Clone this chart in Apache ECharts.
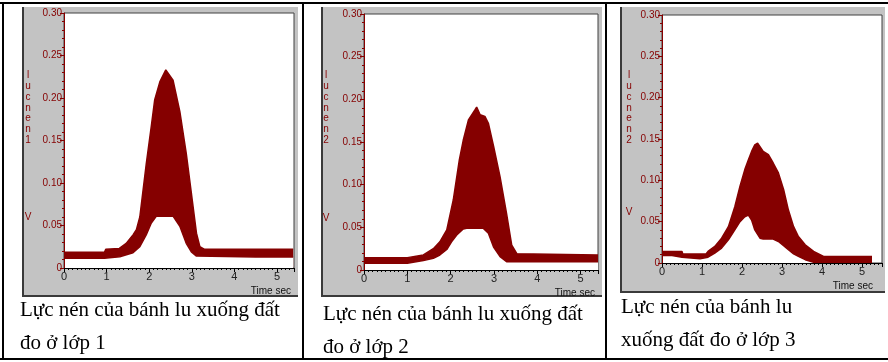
<!DOCTYPE html>
<html>
<head>
<meta charset="utf-8">
<script src="https://cdn.jsdelivr.net/npm/echarts@6/dist/echarts.min.js"></script>
<style>
  html, body { margin: 0; padding: 0; background: #fff; }
  #chart { width: 888px; height: 362px; }
</style>
</head>
<body>
<div id="chart"></div>
<script>
// lớp 1 - đường bao trên / dưới (giây, V)
const tUp1 = [0, 0.95, 0.98, 1.3, 1.46, 1.62, 1.7, 1.78, 1.93, 2.05, 2.13, 2.25, 2.39, 2.56, 2.72, 2.87, 2.99, 3.11, 3.19, 3.3, 4.5, 5.38]
const vUp1 = [0.0185, 0.0185, 0.022, 0.023, 0.029, 0.039, 0.045, 0.06, 0.122, 0.167, 0.198, 0.219, 0.233, 0.221, 0.184, 0.135, 0.088, 0.041, 0.025, 0.022, 0.022, 0.022]
const tLo1 = [0, 0.95, 0.98, 1.31, 1.62, 1.78, 1.93, 2.05, 2.17, 2.56, 2.72, 2.87, 2.99, 3.11, 4.5, 5.38]
const vLo1 = [0.0115, 0.0115, 0.013, 0.0133, 0.018, 0.025, 0.039, 0.053, 0.061, 0.061, 0.049, 0.029, 0.019, 0.014, 0.013, 0.013]

// lớp 2
const tUp2 = [0, 1.0, 1.02, 1.37, 1.6, 1.75, 1.91, 2.06, 2.2, 2.29, 2.41, 2.56, 2.6, 2.68, 2.79, 2.87, 2.99, 3.14, 3.29, 3.41, 3.53, 5.4]
const vUp2 = [0.0145, 0.0145, 0.0164, 0.0176, 0.025, 0.033, 0.047, 0.082, 0.129, 0.152, 0.176, 0.1875, 0.191, 0.182, 0.18, 0.172, 0.145, 0.109, 0.066, 0.029, 0.019, 0.0176]
const tLo2 = [0, 1.0, 1.02, 1.37, 1.6, 1.75, 1.91, 2.02, 2.14, 2.29, 2.37, 2.75, 2.87, 2.99, 3.14, 3.29, 5.4]
const vLo2 = [0.0078, 0.0078, 0.0098, 0.011, 0.0137, 0.0176, 0.024, 0.033, 0.041, 0.048, 0.049, 0.049, 0.043, 0.027, 0.0156, 0.0098, 0.0098]

// lớp 3
const tUp3 = [0, 0.5, 0.52, 1.1, 1.15, 1.32, 1.49, 1.66, 1.82, 1.95, 2.07, 2.16, 2.24, 2.32, 2.39, 2.53, 2.66, 2.78, 2.91, 3.04, 3.16, 3.29, 3.41, 3.58, 3.79, 4.04, 5.25]
const vUp3 = [0.014, 0.014, 0.011, 0.011, 0.014, 0.02, 0.03, 0.044, 0.068, 0.093, 0.113, 0.125, 0.135, 0.143, 0.145, 0.135, 0.131, 0.121, 0.109, 0.089, 0.064, 0.044, 0.032, 0.022, 0.014, 0.008, 0.008]
const tLo3 = [0, 0.25, 0.27, 0.5, 0.52, 0.95, 1.0, 1.15, 1.32, 1.49, 1.66, 1.82, 1.95, 2.07, 2.16, 2.24, 2.32, 2.45, 2.53, 2.78, 2.91, 3.04, 3.16, 3.29, 3.41, 3.58, 3.79, 5.25]
const vLo3 = [0.009, 0.009, 0.007, 0.007, 0.005, 0.005, 0.004, 0.007, 0.012, 0.018, 0.028, 0.04, 0.05, 0.056, 0.058, 0.052, 0.04, 0.03, 0.029, 0.029, 0.026, 0.021, 0.016, 0.011, 0.008, 0.004, 0.001, 0.001]

const yNames = ['l\nu\nc\nn\ne\nn\n1', 'l\nu\nc\nn\ne\nn\n2', 'l\nu\nc\nn\ne\nn\n2']
const captions = [
  'Lực nén của bánh lu xuống đất\nđo ở lớp 1',
  'Lực nén của bánh lu xuống đất\nđo ở lớp 2',
  'Lực nén của bánh lu\nxuống đất đo ở lớp 3'
]
const xMax = [5.4, 5.4, 5.5]

const RED = '#850000'
const pairs = (t, v) => t.map((x, i) => [x, v[i]])

const grids = [
  {left: 64, top: 13, width: 230, height: 255},
  {left: 364, top: 14, width: 234, height: 256},
  {left: 662, top: 15, width: 220, height: 248}
]
// khung xám quanh mỗi đồ thị
const frames = [
  {x: 22, y: 7, w: 276, h: 290},
  {x: 321, y: 7, w: 281, h: 290},
  {x: 620, y: 7, w: 265, h: 286}
]
const ups = [pairs(tUp1, vUp1), pairs(tUp2, vUp2), pairs(tUp3, vUp3)]
const los = [pairs(tLo1, vLo1), pairs(tLo2, vLo2), pairs(tLo3, vLo3)]

let graphic = []
frames.forEach(f => {
  graphic.push({type: 'rect', z: -5, shape: {x: f.x, y: f.y, width: f.w, height: f.h}, style: {fill: '#c3c3c3'}})
  graphic.push({type: 'rect', z: -4, shape: {x: f.x, y: f.y, width: 2, height: f.h}, style: {fill: '#3a3a3a'}})
  graphic.push({type: 'rect', z: -4, shape: {x: f.x, y: f.y + f.h - 2, width: f.w, height: 2}, style: {fill: '#3a3a3a'}})
})
// đường kẻ bảng
const blk = [
  [0, 2, 888, 2], [2, 2, 2, 358], [302, 2, 2, 358], [605, 2, 2, 358], [0, 358, 888, 2]
]
blk.forEach(b => graphic.push({type: 'rect', z: 50, shape: {x: b[0], y: b[1], width: b[2], height: b[3]}, style: {fill: '#000'}}))

const yLabX = [28, 326, 629]
const vY = [217, 218, 212]
const timeX = [291, 595, 873]
const timeY = [291, 293, 286]
for (let i = 0; i < 3; i++) {
  graphic.push({type: 'text', z: 60, style: {text: yNames[i], x: yLabX[i], y: 70, textAlign: 'center', textVerticalAlign: 'top',
    font: '10px Arial', lineHeight: 10.8, fill: RED}})
  graphic.push({type: 'text', z: 60, style: {text: 'V', x: yLabX[i], y: vY[i], textAlign: 'center', textVerticalAlign: 'middle',
    font: '10px Arial', fill: RED}})
  graphic.push({type: 'text', z: 60, style: {text: 'Time sec', x: timeX[i], y: timeY[i], textAlign: 'right', textVerticalAlign: 'middle',
    font: '10px Arial', fill: '#111'}})
}
const capX = [20, 323, 621]
const capY = [294, 298, 291]
for (let i = 0; i < 3; i++) {
  graphic.push({type: 'text', z: 60, style: {text: captions[i], x: capX[i], y: capY[i], textAlign: 'left', textVerticalAlign: 'top',
    font: '21px "Liberation Serif", "Times New Roman", serif', lineHeight: 33, fill: '#000'}})
}

const option = {
  backgroundColor: '#fff',
  animation: false,
  graphic: graphic,
  grid: grids.map(g => Object.assign({show: true, backgroundColor: '#fff', borderColor: '#404040', borderWidth: 1}, g)),
  xAxis: [0, 1, 2].map(i => ({
    type: 'value', gridIndex: i, min: 0, max: xMax[i], interval: 1, z: 5,
    axisLine: {onZero: false, lineStyle: {color: '#000', width: 1}},
    axisTick: {length: 4, lineStyle: {color: '#000'}},
    minorTick: {show: true, splitNumber: 10, length: 2, lineStyle: {color: '#000'}},
    splitLine: {show: false},
    axisLabel: {color: '#222', fontSize: 11, fontFamily: 'Arial', margin: 3,
      formatter: v => Number.isInteger(v) ? String(v) : ''}
  })),
  yAxis: [0, 1, 2].map(i => ({
    type: 'value', gridIndex: i, min: 0, max: 0.3, interval: 0.05, z: 5,
    axisLine: {show: true, lineStyle: {color: RED, width: 1}},
    axisTick: {show: true, length: 4, lineStyle: {color: RED}},
    minorTick: {show: true, splitNumber: 5, length: 2, lineStyle: {color: RED}},
    splitLine: {show: false},
    axisLabel: {color: RED, fontSize: 10, fontFamily: 'Arial', margin: 2,
      formatter: v => v === 0 ? '0' : v.toFixed(2)}
  })),
  series: []
}
for (let i = 0; i < 3; i++) {
  option.series.push({
    type: 'line', xAxisIndex: i, yAxisIndex: i, data: ups[i], showSymbol: false, z: 2,
    lineStyle: {color: RED, width: 1.5}, areaStyle: {color: RED, opacity: 1}
  })
  option.series.push({
    type: 'line', xAxisIndex: i, yAxisIndex: i, data: los[i], showSymbol: false, z: 3,
    lineStyle: {color: RED, width: 1.5}, areaStyle: {color: '#fff', opacity: 1}
  })
}

const chart = echarts.init(document.getElementById('chart'))
chart.setOption(option)
</script>
</body>
</html>
